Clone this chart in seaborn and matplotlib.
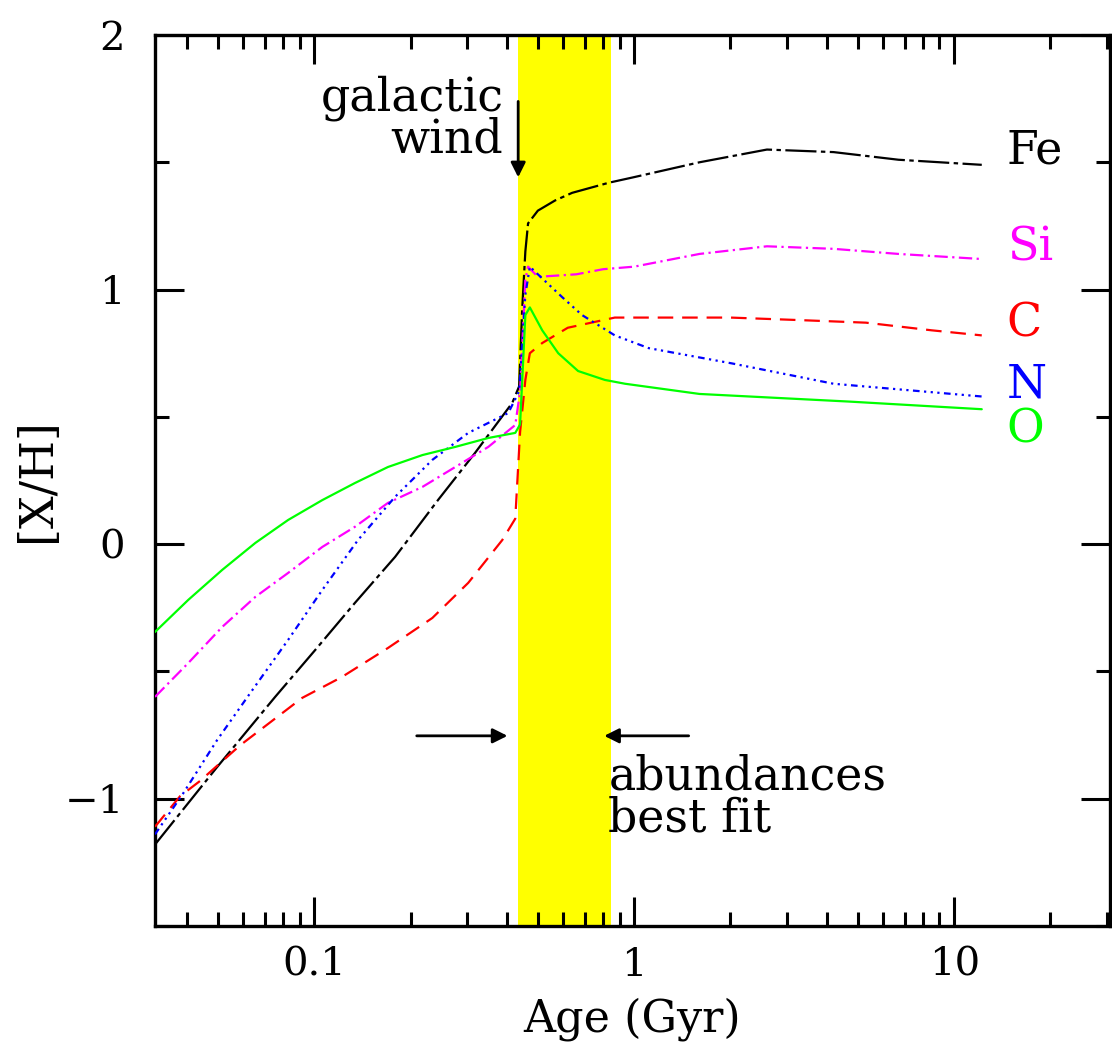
import numpy as np
import pandas as pd
import seaborn as sns
import matplotlib.pyplot as plt
from matplotlib.ticker import MultipleLocator, LogLocator, FixedLocator, FixedFormatter, NullFormatter

# -----------------------------
# [X/H] vs age, galactic wind model
# -----------------------------

# age (Gyr) and abundance for each element
t_fe = [0.0318, 0.0494, 0.0755, 0.1007, 0.134, 0.179, 0.244, 0.318, 0.416, 0.437, 0.447,
        0.457, 0.466, 0.50, 0.566, 0.64, 0.835, 0.986, 1.6, 2.6, 4.2, 6.7, 12.2]
fe = [-1.18, -0.88, -0.60, -0.416, -0.231, -0.05, 0.174, 0.358, 0.555, 0.62, 0.93,
      1.15, 1.26, 1.31, 1.35, 1.38, 1.42, 1.44, 1.50, 1.55, 1.54, 1.51, 1.49]

t_si = [0.0318, 0.0404, 0.0516, 0.0655, 0.0829, 0.106, 0.134, 0.170, 0.218, 0.276, 0.350,
        0.425, 0.44, 0.457, 0.466, 0.50, 0.66, 0.80, 1.0, 1.6, 2.6, 4.2, 6.7, 12.2]
si = [-0.60, -0.467, -0.325, -0.207, -0.113, -0.011, 0.068, 0.162, 0.225, 0.303, 0.382,
      0.468, 0.60, 1.04, 1.09, 1.05, 1.06, 1.08, 1.09, 1.14, 1.17, 1.16, 1.14, 1.12]

t_c = [0.0318, 0.0381, 0.044, 0.0587, 0.0917, 0.122, 0.170, 0.234, 0.303, 0.387, 0.425,
       0.44, 0.457, 0.472, 0.516, 0.62, 0.87, 2.0, 3.3, 5.3, 8.5, 12.2]
c = [-1.11, -0.99, -0.93, -0.79, -0.604, -0.522, -0.408, -0.290, -0.152, 0.016, 0.10,
     0.44, 0.645, 0.75, 0.79, 0.85, 0.89, 0.89, 0.88, 0.87, 0.84, 0.82]

t_n = [0.0318, 0.0389, 0.0497, 0.0631, 0.0829, 0.106, 0.137, 0.179, 0.234, 0.303, 0.404,
       0.437, 0.457, 0.472, 0.50, 0.596, 0.687, 0.87, 1.11, 2.02, 4.2, 12.2]
n = [-1.14, -0.98, -0.77, -0.585, -0.376, -0.180, 0.016, 0.186, 0.331, 0.437, 0.515,
     0.60, 0.98, 1.09, 1.06, 0.97, 0.90, 0.82, 0.77, 0.71, 0.63, 0.58]

t_o = [0.0318, 0.0404, 0.0516, 0.0655, 0.0829, 0.106, 0.134, 0.170, 0.218, 0.276, 0.350,
       0.425, 0.44, 0.457, 0.472, 0.516, 0.579, 0.668, 0.81, 0.937, 1.6, 4.7, 12.2]
o = [-0.345, -0.219, -0.101, 0.005, 0.095, 0.173, 0.240, 0.303, 0.350, 0.382, 0.417,
     0.437, 0.47, 0.90, 0.93, 0.84, 0.75, 0.68, 0.645, 0.63, 0.59, 0.56, 0.53]

# best-fit age band (Gyr)
band = [0.432, 0.847]

# name, ages, values, colour, dash, label baseline
series = [
    ('Fe', t_fe, fe, 'black', (0, (14, 2, 2, 2)), 1.497),
    ('Si', t_si, si, '#ff00ff', (0, (6, 2, 1, 2)), 1.116),
    ('C', t_c, c, '#ff0000', (0, (7, 4)), 0.814),
    ('N', t_n, n, '#0000ff', (0, (3, 2, 1, 2, 1, 2, 1, 2)), 0.578),
    ('O', t_o, o, '#00ff00', '-', 0.401),
]


def main():
    sns.set_style("ticks")
    plt.rcParams['font.family'] = ['DejaVu Serif', 'DejaVu Sans']
    plt.rcParams['text.color'] = 'black'
    plt.rcParams['axes.labelcolor'] = 'black'
    plt.rcParams['xtick.color'] = 'black'
    plt.rcParams['ytick.color'] = 'black'

    fig = plt.figure(figsize=(11.12, 10.52), dpi=100)
    ax = fig.add_axes([155 / 1112, 1 - 926 / 1052, (1110 - 155) / 1112, (926 - 35) / 1052])

    ax.axvspan(band[0], band[1], color='#ffff00', zorder=0, lw=0)

    for name, tx, vals, col, ls, ylab in series:
        df = pd.DataFrame({'age': tx, 'xh': vals})
        sns.lineplot(data=df, x='age', y='xh', color=col, linestyle=ls, lw=1.6,
                     ax=ax, zorder=3, estimator=None)
        ax.text(14.6, ylab, name, color=col, fontsize=33, ha='left', va='baseline')

    ax.set_xscale('log')
    ax.set_xlim(0.0318, 30.7)
    ax.set_ylim(-1.5, 2)

    ax.xaxis.set_major_locator(FixedLocator([0.1, 1, 10]))
    ax.xaxis.set_major_formatter(FixedFormatter(['0.1', '1', '10']))
    ax.xaxis.set_minor_locator(LogLocator(base=10, subs=np.arange(2, 10)))
    ax.xaxis.set_minor_formatter(NullFormatter())
    ax.yaxis.set_major_locator(MultipleLocator(1))
    ax.yaxis.set_minor_locator(MultipleLocator(0.5))

    ax.tick_params(which='both', direction='in', top=True, right=True, width=2.2,
                   labelsize=29, color='black', labelcolor='black')
    ax.tick_params(which='major', length=21)
    ax.tick_params(which='minor', length=10)
    ax.tick_params(axis='y', pad=22)
    ax.tick_params(axis='x', pad=15)
    for s in ax.spines.values():
        s.set_linewidth(2.4)
        s.set_color('black')

    ax.set_xlabel('Age (Gyr)', fontsize=32, labelpad=10)
    ax.set_ylabel('[X/H]', fontsize=33, labelpad=4)

    # galactic wind marker
    ax.annotate('', xy=(0.434, 1.43), xytext=(0.434, 1.75),
                arrowprops=dict(arrowstyle='-|>', color='black', lw=2, mutation_scale=22))
    ax.text(0.39, 1.705, 'galactic', fontsize=33, ha='right', va='baseline')
    ax.text(0.39, 1.537, 'wind', fontsize=33, ha='right', va='baseline')

    # best-fit arrows
    ax.annotate('', xy=(0.41, -0.753), xytext=(0.205, -0.753),
                arrowprops=dict(arrowstyle='-|>', color='black', lw=2, mutation_scale=22))
    ax.annotate('', xy=(0.79, -0.753), xytext=(1.51, -0.753),
                arrowprops=dict(arrowstyle='-|>', color='black', lw=2, mutation_scale=22))
    ax.text(0.83, -0.965, 'abundances', fontsize=33, ha='left', va='baseline')
    ax.text(0.83, -1.13, 'best fit', fontsize=33, ha='left', va='baseline')

    fig.savefig('out.png', dpi=100)
    plt.close(fig)


if __name__ == '__main__':
    main()
